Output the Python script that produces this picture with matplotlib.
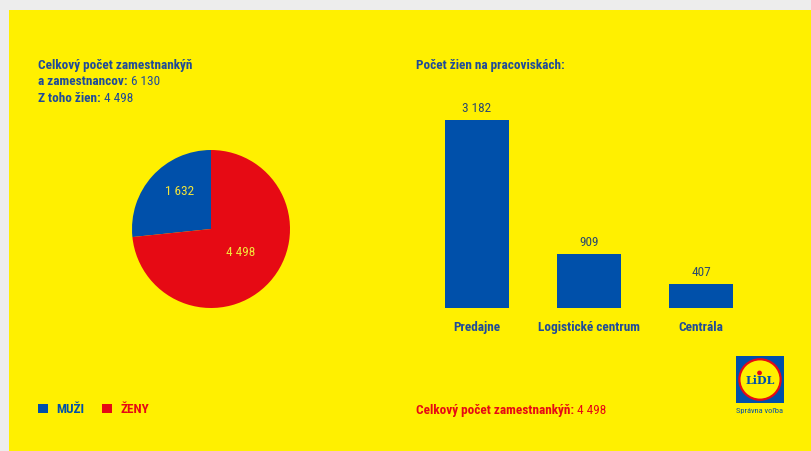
import matplotlib
matplotlib.use("Agg")
import matplotlib.pyplot as plt
from matplotlib.patches import Rectangle, Circle
from matplotlib import font_manager

# ---- data ----
pie_labels = ["MUŽI", "ŽENY"]
pie_values = [1632, 4498]
bar_categories = ["Predajne", "Logistické centrum", "Centrála"]
bar_values = [3182, 909, 407]
total_employees = "6 130"
total_women = "4 498"
pie_value_labels = ["1 632", "4 498"]
bar_value_labels = ["3 182", "909", "407"]

YELLOW = "#FFF000"
BLUE = "#0050AA"
RED = "#E60A14"
TXT_BLUE = "#1F4B99"
NUM_COL = "#2C4A6E"

W, H = 811, 452
names = {f.name for f in font_manager.fontManager.ttflist}
cands = ["Roboto Condensed", "Liberation Sans Narrow", "Open Sans Condensed", "Roboto"]
FAM = [c for c in cands if c in names][:1] + ["DejaVu Sans"]
plt.rcParams["font.family"] = FAM

fig = plt.figure(figsize=(W / 100, H / 100), dpi=100, facecolor="#EDEDED")


def fx(x):
    return x / W


def fy(y):
    return 1 - y / H


def px_axes(l, t, r, b):
    return fig.add_axes([fx(l), fy(b), (r - l) / W, (b - t) / H])


# yellow panel
fig.patches.append(Rectangle((fx(9), 0), 1 - fx(9), fy(11), transform=fig.transFigure,
                             facecolor=YELLOW, edgecolor="none", zorder=-5))


def two_part(x, y, bold, regular, color, size=9.5):
    t1 = fig.text(fx(x), fy(y), bold, color=color, fontsize=size, fontweight="bold",
                  ha="left", va="bottom")
    if regular:
        fig.add_artist(matplotlib.text.Annotation(
            regular, xy=(1, 0), xycoords=t1, ha="left", va="bottom",
            color=color, fontsize=size))
    return t1


# left header
two_part(38, 72, "Celkový počet zamestnankýň", None, TXT_BLUE)
two_part(38, 88, "a zamestnancov:", " " + total_employees, TXT_BLUE)
two_part(38, 105, "Z toho žien:", " " + total_women, TXT_BLUE)

# right header
two_part(416, 72, "Počet žien na pracoviskách:", None, TXT_BLUE)

# pie
cx, cy, r = 211, 230, 79
axp = px_axes(cx - r, cy - r, cx + r, cy + r)
axp.set_facecolor("none")
wedges, _ = axp.pie(pie_values, colors=[BLUE, RED], startangle=90, counterclock=True,
                    radius=1, wedgeprops=dict(linewidth=0))
axp.set_xlim(-1, 1)
axp.set_ylim(-1, 1)
axp.set_aspect("equal")
axp.axis("off")
axp.text(-0.4, 0.49, pie_value_labels[0], color="#F2E43A", fontsize=9.5, ha="center", va="center")
axp.text(0.38, -0.28, pie_value_labels[1], color="#F2E43A", fontsize=9.5, ha="center", va="center")

# bars
axb = px_axes(421, 102, 757, 309)
axb.set_facecolor("none")
xs = list(range(len(bar_categories)))
axb.bar(xs, bar_values, width=0.58, color=BLUE, linewidth=0)
axb.set_xlim(-0.5, 2.5)
axb.set_ylim(0, bar_values[0] * 207 / 188)
axb.axis("off")
for x, v, lab in zip(xs, bar_values, bar_value_labels):
    axb.annotate(lab, (x, v), xytext=(0, 4.5), textcoords="offset points", ha="center",
                 va="bottom", color=NUM_COL, fontsize=9.5)
for x, c in zip(xs, bar_categories):
    axb.annotate(c, (x, 0), xytext=(0, -8.5), textcoords="offset points", ha="center",
                 va="top", color=TXT_BLUE, fontsize=9.5, fontweight="bold")

# legend
fig.patches.append(Rectangle((fx(38), fy(414)), 10 / W, 9 / H, transform=fig.transFigure,
                             facecolor=BLUE, edgecolor="none"))
fig.text(fx(56), fy(410), pie_labels[0], color=BLUE, fontsize=9.5, fontweight="bold",
         ha="left", va="center")
fig.patches.append(Rectangle((fx(102), fy(414)), 10 / W, 9 / H, transform=fig.transFigure,
                             facecolor=RED, edgecolor="none"))
fig.text(fx(120), fy(410), pie_labels[1], color=RED, fontsize=9.5, fontweight="bold",
         ha="left", va="center")

# bottom right
two_part(416, 417, "Celkový počet zamestnankýň:", " " + total_women, RED)

# logo
axl = px_axes(736, 357, 784, 404)
axl.set_xlim(-1, 1)
axl.set_ylim(-1, 1)
axl.axis("off")
axl.add_patch(Rectangle((-1, -1), 2, 2, facecolor=BLUE, edgecolor="none"))
axl.add_patch(Circle((0, 0), 0.86, facecolor=YELLOW, edgecolor=RED, linewidth=1.6))
axl.text(0, -0.02, "LiDL", color=BLUE, fontsize=8, fontweight="bold", ha="center",
         va="center", family=["DejaVu Serif"])
axl.add_patch(Circle((-0.02, 0.28), 0.1, facecolor=RED, edgecolor="none"))
fig.text(fx(760), fy(411), "Správna voľba", color=BLUE, fontsize=6, ha="center", va="center")

fig.savefig("out.png", dpi=100, facecolor=fig.get_facecolor())
